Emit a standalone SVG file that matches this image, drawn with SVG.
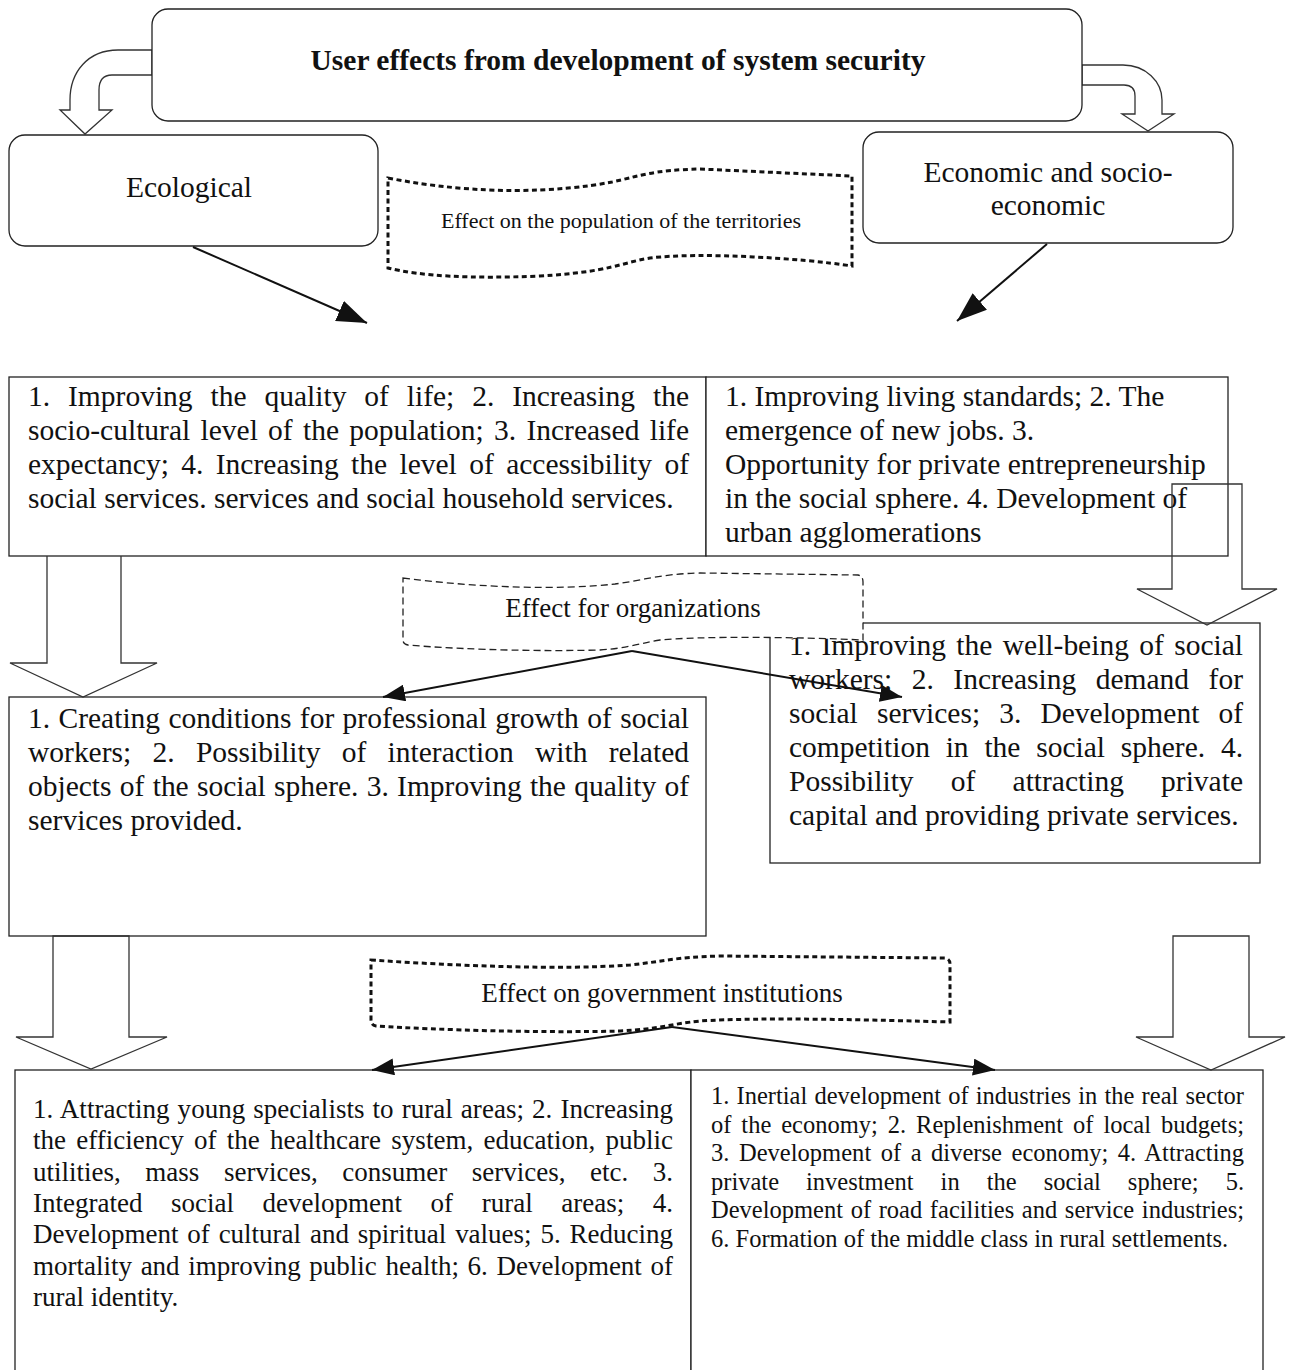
<svg xmlns="http://www.w3.org/2000/svg" width="1290" height="1370" viewBox="0 0 1290 1370">
<style>
.bg{fill:#fff}
.box{fill:#fff;stroke:#222;stroke-width:1.3}
.blk{fill:none;stroke:#333;stroke-width:1.3;stroke-linejoin:miter}
.cur{fill:#fff;stroke:#333;stroke-width:1.3}
.dot{fill:#fff;stroke:#111;stroke-width:3;stroke-dasharray:5 3.5}
.dash{fill:#fff;stroke:#222;stroke-width:1.3;stroke-dasharray:7 4}
.con{fill:none;stroke:#111;stroke-width:2}
text{font-family:"Liberation Serif","Times New Roman",serif;fill:#111}
.t{font-size:29.5px}
.tb{font-size:29.5px;font-weight:bold}
.s{font-size:22px}
.m{font-size:27px}
.r{font-size:24.5px}
</style>
<defs>
<marker id="ah" viewBox="0 0 30 22" refX="30" refY="11" markerWidth="30" markerHeight="22" markerUnits="userSpaceOnUse" orient="auto"><path d="M0,0 L30,11 L0,22 Z" fill="#111"/></marker>
<marker id="as" viewBox="0 0 22 17" refX="22" refY="8.5" markerWidth="22" markerHeight="17" markerUnits="userSpaceOnUse" orient="auto"><path d="M0,0 L22,8.5 L0,17 Z" fill="#111"/></marker>
</defs>
<rect class="bg" x="0" y="0" width="1290" height="1370"/>

<g id="curved-arrows">
<path class="cur" d="M152,50 L118,50 C88,50 70,72 70,100 L70,110 L60,110 L85,134 L112,110 L99,110 L99,90 C99,80 104,75 112,75 L152,75 Z"/>
<path class="cur" d="M1082,65 L1123,65 C1146,65 1162,82 1162,100 L1162,114 L1174,114 L1148,131 L1122,114 L1135,114 L1135,96 C1135,89 1131,85 1124,85 L1082,85 Z"/>
</g>

<g id="title">
<rect class="box" x="152" y="9" width="930" height="112" rx="16"/>
<text class="tb" x="618" y="70" text-anchor="middle">User effects from development of system security</text>
</g>

<g id="ecological">
<rect class="box" x="9" y="135" width="369" height="111" rx="16"/>
<text class="t" x="189" y="197" text-anchor="middle">Ecological</text>
</g>

<g id="economic">
<rect class="box" x="863" y="132" width="370" height="111" rx="16"/>
<text class="t" x="1048" y="182" text-anchor="middle">Economic and socio-</text>
<text class="t" x="1048" y="215" text-anchor="middle">economic</text>
</g>

<g id="effect-population">
<path class="dot" d="M388,178 C480,196 560,192 612,182 C640,176 652,170 700,169 L852,176 L852,266 C800,258 700,252 650,258 C620,263 610,272 540,276 C470,279 420,276 388,268 Z"/>
<text class="s" x="621" y="228" text-anchor="middle">Effect on the population of the territories</text>
</g>

<g id="row1-left">
<rect class="box" x="9" y="377" width="697" height="179"/>
<text class="t" x="28" y="406" word-spacing="10.5" textLength="661" lengthAdjust="spacing">1. Improving the quality of life; 2. Increasing the</text>
<text class="t" x="28" y="440" word-spacing="2.9" textLength="661" lengthAdjust="spacing">socio-cultural level of the population; 3. Increased life</text>
<text class="t" x="28" y="474" word-spacing="5" textLength="661" lengthAdjust="spacing">expectancy; 4. Increasing the level of accessibility of</text>
<text class="t" x="28" y="508">social services. services and social household services.</text>
</g>

<g id="row1-right">
<rect class="box" x="706" y="377" width="522" height="179"/>
<text class="t" x="725" y="406">1. Improving living standards; 2. The</text>
<text class="t" x="725" y="440">emergence of new jobs. 3.</text>
<text class="t" x="725" y="474">Opportunity for private entrepreneurship</text>
<text class="t" x="725" y="508">in the social sphere. 4. Development of</text>
<text class="t" x="725" y="542">urban agglomerations</text>
</g>

<g id="row2-right">
<rect class="box" x="770" y="623" width="490" height="240"/>
<text class="t" x="789" y="655" word-spacing="3" textLength="454" lengthAdjust="spacing">1. Improving the well-being of social</text>
<text class="t" x="789" y="689" word-spacing="12.1" textLength="454" lengthAdjust="spacing">workers; 2. Increasing demand for</text>
<text class="t" x="789" y="723" word-spacing="11.7" textLength="454" lengthAdjust="spacing">social services; 3. Development of</text>
<text class="t" x="789" y="757" word-spacing="8.4" textLength="454" lengthAdjust="spacing">competition in the social sphere. 4.</text>
<text class="t" x="789" y="791" word-spacing="29.8" textLength="454" lengthAdjust="spacing">Possibility of attracting private</text>
<text class="t" x="789" y="825">capital and providing private services.</text>
</g>

<g id="effect-organizations">
<path class="dash" d="M403,578 C480,588 560,590 615,584 C645,580 660,574 700,573 L858,575 Q863,576 863,582 L863,640 C800,637 700,636 660,640 C640,643 630,648 600,650 C520,652 440,648 408,645 Q403,644 403,640 Z"/>
<text class="m" x="633" y="617" text-anchor="middle">Effect for organizations</text>
</g>

<g id="row2-left">
<rect class="box" x="9" y="697" width="697" height="239"/>
<text class="t" x="28" y="728" word-spacing="1" textLength="661" lengthAdjust="spacing">1. Creating conditions for professional growth of social</text>
<text class="t" x="28" y="762" word-spacing="13.9" textLength="661" lengthAdjust="spacing">workers; 2. Possibility of interaction with related</text>
<text class="t" x="28" y="796" word-spacing="0.9" textLength="661" lengthAdjust="spacing">objects of the social sphere. 3. Improving the quality of</text>
<text class="t" x="28" y="830">services provided.</text>
</g>

<g id="effect-government">
<path class="dot" d="M371,960 C460,966 560,970 630,965 C660,962 675,957 720,956 L945,958 Q950,959 950,964 L950,1022 C880,1020 760,1017 700,1021 C670,1024 660,1029 620,1031 C540,1033 440,1030 376,1026 Q371,1025 371,1020 Z"/>
<text class="m" x="662" y="1002" text-anchor="middle">Effect on government institutions</text>
</g>

<g id="row3-left">
<rect class="box" x="15" y="1070" width="676" height="320"/>
<text class="m" x="33" y="1118" word-spacing="1.3" textLength="640" lengthAdjust="spacing">1. Attracting young specialists to rural areas; 2. Increasing</text>
<text class="m" x="33" y="1149" word-spacing="3.5" textLength="640" lengthAdjust="spacing">the efficiency of the healthcare system, education, public</text>
<text class="m" x="33" y="1181" word-spacing="17.8" textLength="640" lengthAdjust="spacing">utilities, mass services, consumer services, etc. 3.</text>
<text class="m" x="33" y="1212" word-spacing="21.8" textLength="640" lengthAdjust="spacing">Integrated social development of rural areas; 4.</text>
<text class="m" x="33" y="1243" word-spacing="2.1" textLength="640" lengthAdjust="spacing">Development of cultural and spiritual values; 5. Reducing</text>
<text class="m" x="33" y="1275" word-spacing="1.9" textLength="640" lengthAdjust="spacing">mortality and improving public health; 6. Development of</text>
<text class="m" x="33" y="1306">rural identity.</text>
</g>

<g id="row3-right">
<rect class="box" x="691" y="1070" width="572" height="320"/>
<text class="r" x="711" y="1104" word-spacing="1.05" textLength="533" lengthAdjust="spacing">1. Inertial development of industries in the real sector</text>
<text class="r" x="711" y="1133" word-spacing="3.8" textLength="533" lengthAdjust="spacing">of the economy; 2. Replenishment of local budgets;</text>
<text class="r" x="711" y="1161" word-spacing="3.3" textLength="533" lengthAdjust="spacing">3. Development of a diverse economy; 4. Attracting</text>
<text class="r" x="711" y="1190" word-spacing="20.9" textLength="533" lengthAdjust="spacing">private investment in the social sphere; 5.</text>
<text class="r" x="711" y="1218" word-spacing="1.5" textLength="533" lengthAdjust="spacing">Development of road facilities and service industries;</text>
<text class="r" x="711" y="1247">6. Formation of the middle class in rural settlements.</text>
</g>

<g id="block-arrows">
<path class="blk" d="M47,556 L47,663 L10,663 L83,697 L157,663 L121,663 L121,556"/>
<path class="blk" d="M1172,484 L1242,484 L1242,589 L1277,589 L1207,625 L1137,589 L1172,589 Z"/>
<path class="blk" d="M53,936 L129,936 L129,1037 L167,1037 L91,1069 L16,1037 L53,1037 Z"/>
<path class="blk" d="M1173,936 L1249,936 L1249,1037 L1285,1037 L1211,1070 L1136,1037 L1173,1037 Z"/>
</g>

<g id="connectors">
<line class="con" x1="193" y1="247" x2="367" y2="323" marker-end="url(#ah)"/>
<line class="con" x1="1047" y1="244" x2="957" y2="321" marker-end="url(#ah)"/>
<line class="con" x1="632" y1="651" x2="383" y2="697" marker-end="url(#as)"/>
<line class="con" x1="632" y1="651" x2="902" y2="697" marker-end="url(#as)"/>
<line class="con" x1="672" y1="1027" x2="372" y2="1070" marker-end="url(#as)"/>
<line class="con" x1="672" y1="1027" x2="995" y2="1070" marker-end="url(#as)"/>
</g>
</svg>
